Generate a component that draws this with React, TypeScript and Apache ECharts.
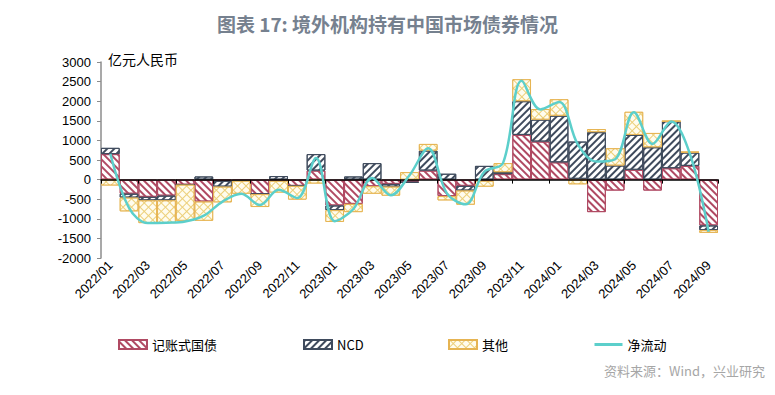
import React, { useEffect, useRef } from 'react';
import * as echarts from 'echarts';

const categories = [
  '2022/01', '2022/02', '2022/03', '2022/04', '2022/05', '2022/06', '2022/07', '2022/08', '2022/09', '2022/10', '2022/11', '2022/12',
  '2023/01', '2023/02', '2023/03', '2023/04', '2023/05', '2023/06', '2023/07', '2023/08', '2023/09', '2023/10', '2023/11', '2023/12',
  '2024/01', '2024/02', '2024/03', '2024/04', '2024/05', '2024/06', '2024/07', '2024/08', '2024/09',
];

const treasury = [650, -360, -440, -410, -130, -560, -30, -30, -370, -30, -160, 230,
  -660, -620, -170, -110, -60, 230, -420, -160, -30, 140, 1140, 970,
  440, 20, -830, -280, 250, -280, 290, 350, -1170];

const ncd = [160, -100, -90, -120, 0, 80, -150, 0, 0, 90, 0, 420,
  -120, 80, 420, -70, -20, 510, 150, -120, 350, 50, 860, 560,
  1190, 950, 1210, 360, 890, 825, 1200, 340, -120];

const others = [-150, -350, -580, -580, -920, -490, -400, -330, -330, -300, -350, -100,
  -300, -210, -190, -230, 190, 170, -110, -360, -150, 230, 560, 270,
  420, -120, 80, 440, 590, 365, 0, 20, -70];

const netFlow = [660, -720, -1110, -1100, -1070, -920, -560, -360, -650, -260, -470, 550,
  -1060, -750, 40, -400, 110, 800, -350, -630, 200, 420, 2520, 1790,
  1980, 900, 460, 520, 1720, 910, 1480, 650, -1330];

const seriesNames = ['记账式国债', 'NCD', '其他', '净流动'];
const yMin = -2000;
const yMax = 3000;
const yInterval = 500;

export default function App() {
  const ref = useRef<HTMLDivElement>(null);
  useEffect(() => {
    const chart = echarts.init(ref.current!, null, { renderer: 'svg' });
    const cjk = '"Noto Sans CJK SC", sans-serif';
    const latin = '"Liberation Sans", Arial, sans-serif';
    const legendBase = {
      top: 333,
      itemWidth: 28,
      itemHeight: 9,
      textStyle: { fontSize: 13, color: '#000', fontFamily: cjk },
    };
    chart.setOption({
      animation: false,
      aria: { enabled: true, decal: { show: true } },
      title: {
        text: '图表 17: 境外机构持有中国市场债券情况',
        left: 'center',
        top: 9,
        textStyle: { fontSize: 19, fontWeight: 'bold', color: '#76818f', fontFamily: cjk },
      },
      grid: { left: 101, right: 57, top: 62, bottom: 137 },
      legend: [
        { ...legendBase, icon: 'rect', left: 113, data: [seriesNames[0]] },
        { ...legendBase, icon: 'rect', left: 298, data: [seriesNames[1]] },
        { ...legendBase, icon: 'rect', left: 443, data: [seriesNames[2]] },
        {
          ...legendBase,
          left: 588,
          itemStyle: { opacity: 0 },
          lineStyle: { width: 3, color: '#5ccfcb' },
          data: [seriesNames[3]],
        },
      ],
      xAxis: [
        {
          type: 'category',
          data: categories,
          position: 'bottom',
          axisLine: { onZero: true, lineStyle: { color: '#000', width: 1.5 } },
          axisTick: { show: true, interval: 1, length: 4, lineStyle: { color: '#000' } },
          axisLabel: { show: false },
          splitLine: { show: false },
          z: 5,
        },
        {
          type: 'category',
          data: categories,
          position: 'bottom',
          axisLine: { show: false, onZero: false },
          axisTick: { show: false },
          axisLabel: {
            interval: 1,
            rotate: 45,
            margin: 5,
            fontSize: 13,
            color: '#000',
            fontFamily: latin,
          },
        },
      ],
      yAxis: {
        type: 'value',
        min: yMin,
        max: yMax,
        interval: yInterval,
        axisLine: { show: true, lineStyle: { color: '#8c8c8c', width: 1.5 } },
        axisTick: { show: true, length: 4, lineStyle: { color: '#8c8c8c' } },
        axisLabel: {
          fontSize: 13,
          color: '#000',
          fontFamily: latin,
          margin: 10,
          formatter: (v: number) => String(v),
        },
        splitLine: { show: false },
      },
      graphic: [
        {
          type: 'text',
          left: 108,
          top: 52,
          style: { text: '亿元人民币', fill: '#000', font: '14px "Noto Sans CJK SC"' },
        },
        {
          type: 'text',
          right: 10,
          top: 364,
          style: { text: '资料来源：Wind，兴业研究', fill: '#a6a6a6', font: '13px "Noto Sans CJK SC"' },
        },
      ],
      series: [
        {
          name: seriesNames[0],
          type: 'bar',
          stack: 'total',
          barCategoryGap: '0%',
          data: treasury,
          itemStyle: {
            color: '#ffffff',
            borderColor: '#b04a63',
            borderWidth: 1,
            decal: {
              symbol: 'rect',
              symbolSize: 1,
              dashArrayX: [1, 0],
              dashArrayY: [2, 3],
              rotation: Math.PI / 4,
              color: '#b04a63',
            },
          },
        },
        {
          name: seriesNames[1],
          type: 'bar',
          stack: 'total',
          barCategoryGap: '0%',
          data: ncd,
          itemStyle: {
            color: '#ffffff',
            borderColor: '#3f4b5d',
            borderWidth: 1,
            decal: {
              symbol: 'rect',
              symbolSize: 1,
              dashArrayX: [1, 0],
              dashArrayY: [2, 3],
              rotation: -Math.PI / 4,
              color: '#3f4b5d',
            },
          },
        },
        {
          name: seriesNames[2],
          type: 'bar',
          stack: 'total',
          barCategoryGap: '0%',
          data: others,
          itemStyle: {
            color: '#eccf78',
            borderColor: '#e6b452',
            borderWidth: 1,
            decal: {
              symbol: 'rect',
              symbolSize: 1,
              dashArrayX: [5, 1],
              dashArrayY: [5, 1],
              rotation: Math.PI / 4,
              color: '#fffcee',
            },
          },
        },
        {
          name: seriesNames[3],
          type: 'line',
          data: netFlow,
          smooth: 0.35,
          showSymbol: false,
          symbol: 'none',
          z: 10,
          lineStyle: { color: '#5ccfcb', width: 2.5 },
          itemStyle: { color: '#5ccfcb', decal: 'none' },
        },
      ],
    });
    return () => chart.dispose();
  }, []);
  return <div ref={ref} style={{ position: 'fixed', left: 0, top: 0, width: 775, height: 395, background: '#fff' }} />;
}
